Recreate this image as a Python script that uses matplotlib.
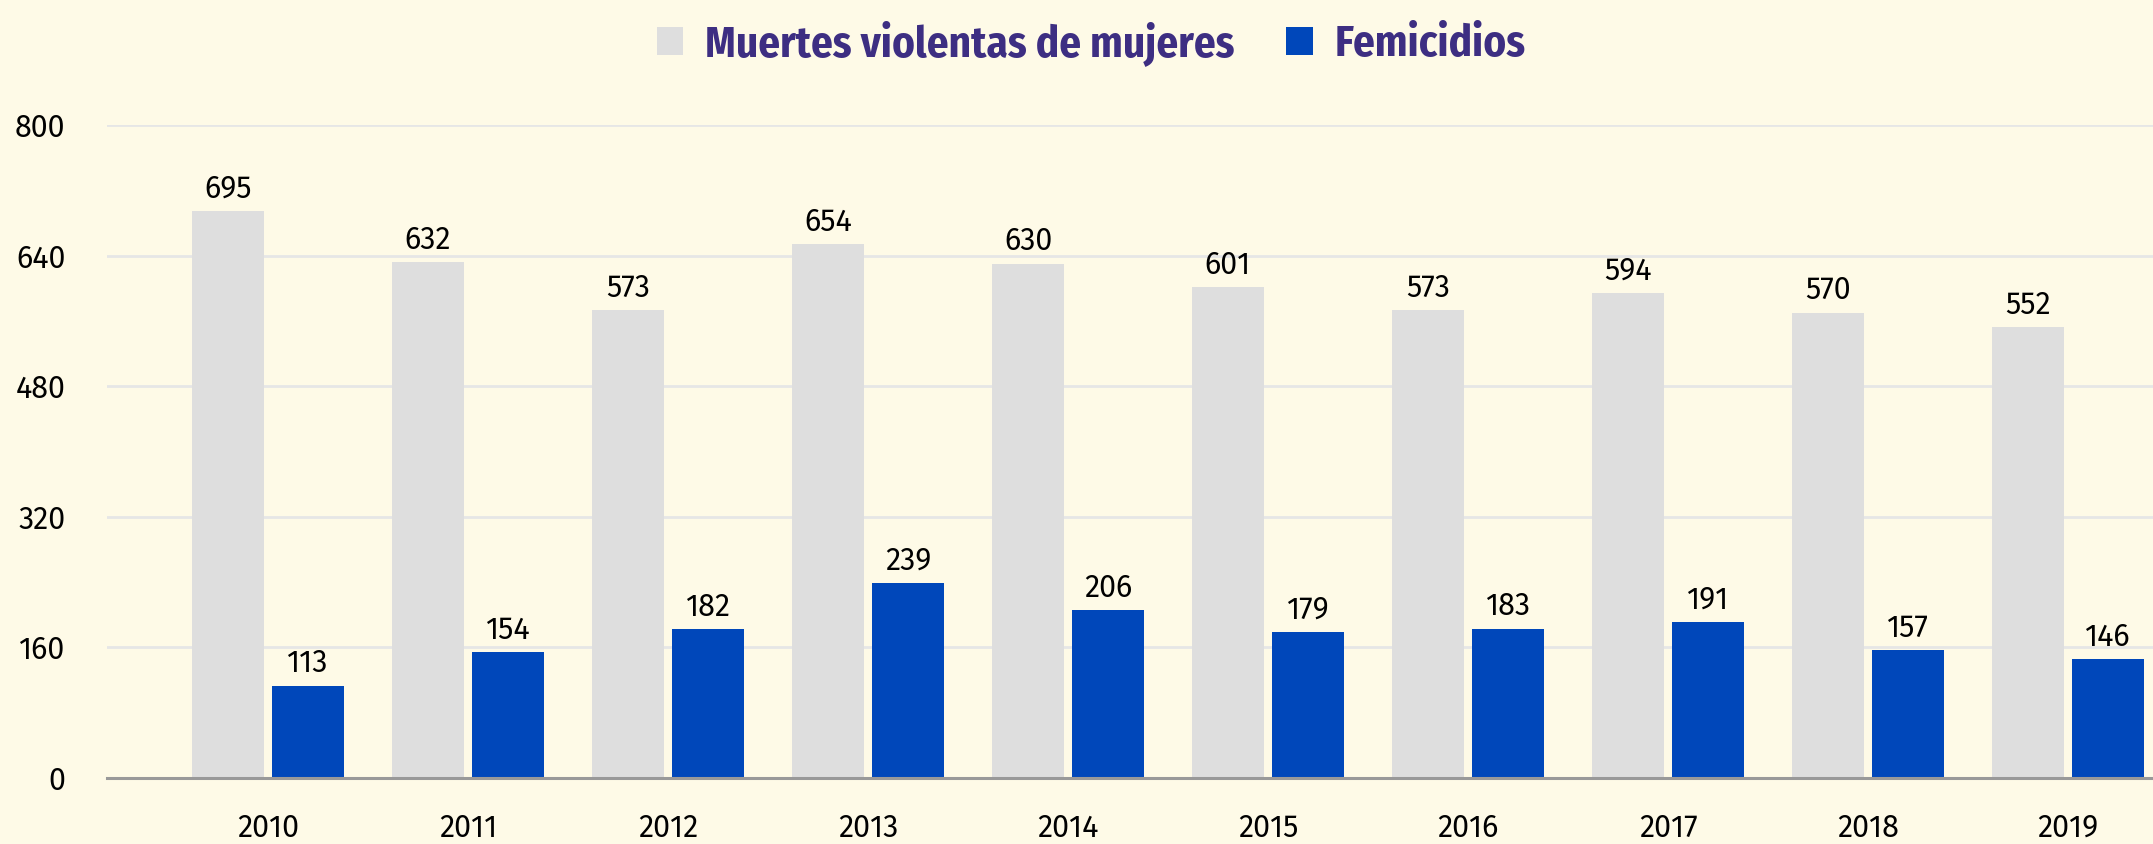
import matplotlib
matplotlib.use("Agg")
import matplotlib.pyplot as plt
import numpy as np
from matplotlib.patches import Patch
from matplotlib import font_manager as fm

years = ["2010", "2011", "2012", "2013", "2014", "2015", "2016", "2017", "2018", "2019"]
muertes = [695, 632, 573, 654, 630, 601, 573, 594, 570, 552]
femicidios = [113, 154, 182, 239, 206, 179, 183, 191, 157, 146]
yticks = [0, 160, 320, 480, 640, 800]
series_names = ["Muertes violentas de mujeres", "Femicidios"]


def pick(cands, weight="normal"):
    for c in cands:
        try:
            fm.findfont(fm.FontProperties(family=c, weight=weight), fallback_to_default=False)
            return c
        except Exception:
            continue
    return "DejaVu Sans"


BODY = pick(["Fira Sans", "Open Sans", "Noto Sans", "Lato"])
COND = pick(["Fira Sans Condensed", "Asap Condensed", "Barlow Semi Condensed",
             "Liberation Sans Narrow", "Roboto Condensed"], weight="bold")

BG = "#FEFAE7"
GREY = "#DEDEDE"
BLUE = "#0047BA"
PURPLE = "#3D2E82"

W, H = 2153, 844
fig = plt.figure(figsize=(W / 100, H / 100), dpi=100, facecolor=BG)
ax = fig.add_axes([107 / W, (H - 778) / H, 1 - 107 / W, (778 - 125) / H])
ax.set_facecolor(BG)

x = np.arange(len(years))
bw = 0.36
off = 0.2
b1 = ax.bar(x - off, muertes, bw, color=GREY, zorder=3)
b2 = ax.bar(x + off, femicidios, bw, color=BLUE, zorder=3)

lab_font = dict(family=[BODY, "DejaVu Sans"], size=22, color="black")
for bars, vals in ((b1, muertes), (b2, femicidios)):
    for r, v in zip(bars, vals):
        ax.annotate(str(v), (r.get_x() + r.get_width() / 2, v), xytext=(0, 5),
                    textcoords="offset points", ha="center", va="bottom",
                    zorder=4, **lab_font)

ax.set_xlim(-0.805, 9.425)
ax.set_ylim(0, 800)
ax.set_yticks(yticks)
ax.set_yticklabels([str(t) for t in yticks], **lab_font)
ax.set_xticks(x)
ax.set_xticklabels(years, **lab_font)
ax.tick_params(axis="both", length=0)
ax.tick_params(axis="y", pad=30)
ax.tick_params(axis="x", pad=25)
ax.grid(axis="y", color="#E6E6E6", linewidth=2, zorder=0)
for s in ["top", "right", "left"]:
    ax.spines[s].set_visible(False)
ax.spines["bottom"].set_color("#999999")
ax.spines["bottom"].set_linewidth(2.2)
ax.spines["bottom"].set_zorder(5)

handles = [Patch(facecolor=GREY, edgecolor="none"), Patch(facecolor=BLUE, edgecolor="none")]
leg = fig.legend(handles, series_names, loc="center", bbox_to_anchor=(1091 / W, 1 - 43 / H),
                 ncol=2, frameon=False, handlelength=0.62, handleheight=0.62,
                 handletextpad=0.5, columnspacing=1.2,
                 prop=dict(family=[COND, "DejaVu Sans"], weight="bold", size=31))
for t in leg.get_texts():
    t.set_color(PURPLE)

fig.savefig("out.png", dpi=100, facecolor=BG)
